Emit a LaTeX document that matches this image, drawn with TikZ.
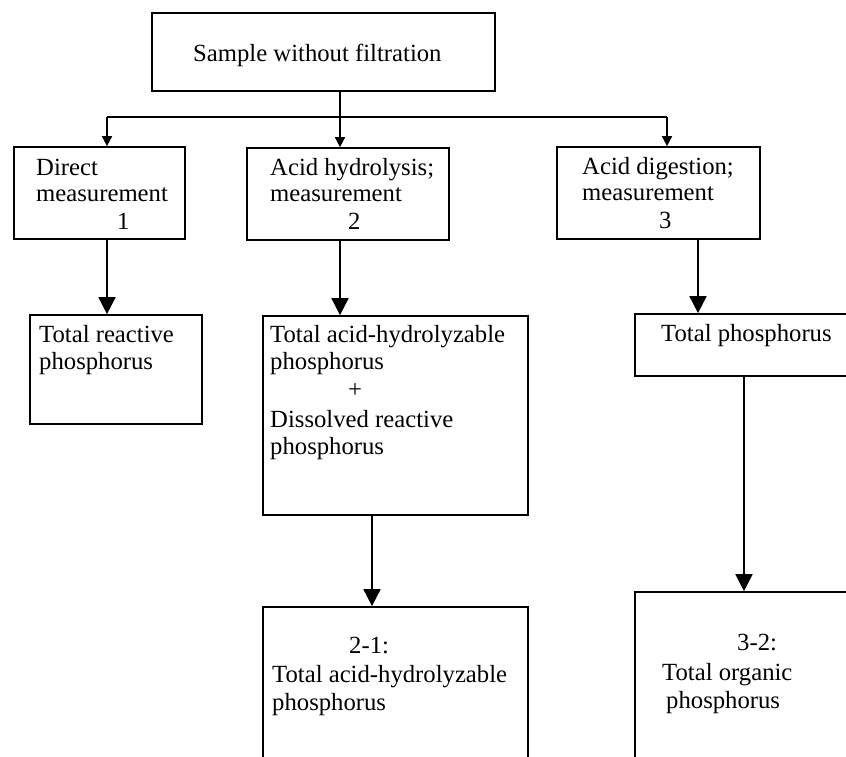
\documentclass[tikz,border=0pt]{standalone}
\usepackage{fontspec}
\setmainfont{Liberation Serif}
\usetikzlibrary{arrows.meta}
\begin{document}
\begin{tikzpicture}[x=1pt,y=-1pt,
  box/.style={draw, line width=1.7pt, rectangle, inner sep=0pt},
  txt/.style={anchor=base west, inner sep=0pt, font=\fontsize{24.7}{28}\selectfont},
  link/.style={line width=1.7pt},
  smallarrow/.style={link, -{Triangle[length=10pt,width=10pt]}},
  bigarrow/.style={link, -{Triangle[length=17pt,width=17pt]}}]
\useasboundingbox (0,0) rectangle (846,756);
\clip (0,0) rectangle (846,756);

% boxes
\node[box, minimum width=343pt, minimum height=78pt] (sample) at (323.5,52) {};
\node[box, minimum width=171pt, minimum height=92pt] (direct) at (99.5,193) {};
\node[box, minimum width=202pt, minimum height=92pt] (hyd) at (348,194) {};
\node[box, minimum width=203pt, minimum height=92pt] (digest) at (658.5,193) {};
\node[box, minimum width=172pt, minimum height=109pt] (trp) at (116,369.5) {};
\node[box, minimum width=265pt, minimum height=199pt] (tahp) at (395.5,415.5) {};
\node[box, minimum width=265pt, minimum height=62pt] (tp) at (767.5,345) {};
\node[box, minimum width=265pt, minimum height=193pt] (diff21) at (395.5,703.5) {};
\node[box, minimum width=265pt, minimum height=208pt] (diff32) at (767.5,696) {};

% texts
\node[txt] (tsample) at (193,61) {Sample without filtration};
\node[txt] (td1) at (36,175) {Direct};
\node[txt] (td2) at (36,201) {measurement};
\node[txt] (td3) at (117,229) {1};
\node[txt] (th1) at (270,175) {Acid hydrolysis;};
\node[txt] (th2) at (270,201) {measurement};
\node[txt] (th3) at (348,229) {2};
\node[txt] (tg1) at (582,174) {Acid digestion;};
\node[txt] (tg2) at (582,200) {measurement};
\node[txt] (tg3) at (659,228) {3};
\node[txt] (tr1) at (39,342) {Total reactive};
\node[txt] (tr2) at (39,369) {phosphorus};
\node[txt] (ta1) at (270,342) {Total acid-hydrolyzable};
\node[txt] (ta2) at (270,369) {phosphorus};
\node[txt] (ta3) at (348,397) {+};
\node[txt] (ta4) at (270,427) {Dissolved reactive};
\node[txt] (ta5) at (270,454) {phosphorus};
\node[txt] (tt1) at (661,341) {Total phosphorus};
\node[txt] (tx1) at (349,653) {2-1:};
\node[txt] (tx2) at (272,682) {Total acid-hydrolyzable};
\node[txt] (tx3) at (272,710) {phosphorus};
\node[txt] (ty1) at (737,650) {3-2:};
\node[txt] (ty2) at (662,680) {Total organic};
\node[txt] (ty3) at (666,708) {phosphorus};

% connector positions
\coordinate (xa) at (107,117);
\coordinate (xb) at (340,117);
\coordinate (xc) at (667,117);
\coordinate (xd) at (698,0);
\coordinate (xe) at (372,0);
\coordinate (xf) at (744,0);

% connectors
\draw[link] (xa) -- (xc);
\draw[smallarrow] (sample.south -| xb) -- (hyd.north -| xb);
\draw[smallarrow] (xa) -- (direct.north -| xa);
\draw[smallarrow] (xc) -- (digest.north -| xc);
\draw[bigarrow] (direct.south -| xa) -- (trp.north -| xa);
\draw[bigarrow] (hyd.south -| xb) -- (tahp.north -| xb);
\draw[bigarrow] (digest.south -| xd) -- (tp.north -| xd);
\draw[bigarrow] (tahp.south -| xe) -- (diff21.north -| xe);
\draw[bigarrow] (tp.south -| xf) -- (diff32.north -| xf);
\end{tikzpicture}
\end{document}
